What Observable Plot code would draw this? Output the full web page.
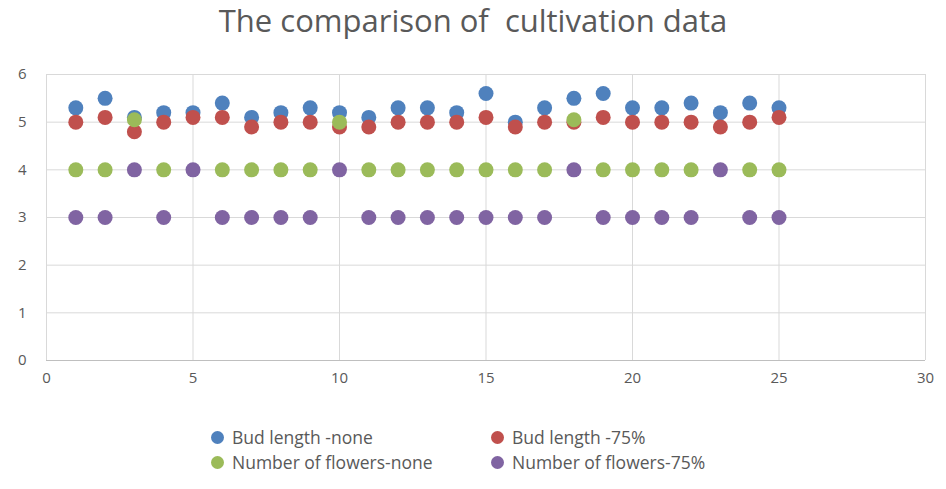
<!DOCTYPE html>
<html>
<head>
<meta charset="utf-8">
<script src="https://cdn.jsdelivr.net/npm/d3@7"></script>
<script src="https://cdn.jsdelivr.net/npm/@observablehq/plot@0.6"></script>
<style>
  body { margin: 0; background: #fff; font-family: "Open Sans", "Noto Sans", sans-serif; }
  #wrap { width: 946px; position: relative; }
  #title { height: 50px; line-height: 40px; text-align: center; font-size: 31px; color: #595959; white-space: pre; }
  #legend { position: relative; height: 80px; font-size: 17.5px; color: #595959; }
  .item { position: absolute; display: flex; align-items: center; white-space: pre; }
  .sw { width: 13px; height: 13px; border-radius: 50%; margin-right: 8px; }
</style>
</head>
<body>
<div id="wrap">
  <div id="title">The comparison of  cultivation data</div>
  <div id="chart"></div>
  <div id="legend"></div>
</div>
<script>
// Sample numbers 1–25
const samples = d3.range(1, 26);

const seriesNames = ["Bud length -none", "Bud length -75%", "Number of flowers-none", "Number of flowers-75%"];
const seriesColors = ["#4f81bd", "#c0504d", "#9bbb59", "#8064a2"];

const budLengthNone    = [5.3, 5.5, 5.1, 5.2, 5.2, 5.4, 5.1, 5.2, 5.3, 5.2, 5.1, 5.3, 5.3, 5.2, 5.6, 5.0, 5.3, 5.5, 5.6, 5.3, 5.3, 5.4, 5.2, 5.4, 5.3];
const budLength75      = [5.0, 5.1, 4.8, 5.0, 5.1, 5.1, 4.9, 5.0, 5.0, 4.9, 4.9, 5.0, 5.0, 5.0, 5.1, 4.9, 5.0, 5.0, 5.1, 5.0, 5.0, 5.0, 4.9, 5.0, 5.1];
const flowersNone      = [4, 4, 5.05, 4, null, 4, 4, 4, 4, 5.0, 4, 4, 4, 4, 4, 4, 4, 5.05, 4, 4, 4, 4, null, 4, 4];
const flowers75        = [3, 3, 4, 3, 4, 3, 3, 3, 3, 4, 3, 3, 3, 3, 3, 3, 3, 4, 3, 3, 3, 3, 4, 3, 3];

const xTicks = [0, 5, 10, 15, 20, 25, 30];
const yTicks = [0, 1, 2, 3, 4, 5, 6];

const allSeries = [budLengthNone, budLength75, flowersNone, flowers75];
const rows = allSeries.flatMap((vals, s) =>
  vals.map((v, i) => ({ sample: samples[i], value: v, series: seriesNames[s] })))
  .filter(d => d.value != null);

const chart = Plot.plot({
  width: 946,
  height: 345,
  marginLeft: 46,
  marginRight: 21,
  marginTop: 24,
  marginBottom: 35,
  style: { fontFamily: "'Open Sans', 'Noto Sans', sans-serif", fontSize: "15px", color: "#595959", background: "#fff" },
  x: { domain: [0, 30], ticks: xTicks, label: null, tickSize: 0 },
  y: { domain: [0, 6], ticks: yTicks, label: null, tickSize: 0 },
  color: { domain: seriesNames, range: seriesColors },
  marks: [
    Plot.gridX(xTicks, { stroke: "#d9d9d9", strokeOpacity: 1 }),
    Plot.gridY(yTicks, { stroke: "#d9d9d9", strokeOpacity: 1 }),
    Plot.ruleY([0], { stroke: "#bfbfbf" }),
    Plot.axisX({ ticks: xTicks, tickSize: 0, tickPadding: 12, tickFormat: "d", fill: "#595959" }),
    Plot.axisY({ ticks: yTicks, tickSize: 0, tickPadding: 20, tickFormat: "d", fill: "#595959" }),
    Plot.dot(rows, { x: "sample", y: "value", fill: "series", r: 7.5, stroke: null })
  ]
});
document.getElementById("chart").appendChild(chart);

// Legend: two columns, two rows
const legend = document.getElementById("legend");
const pos = [[211, 42], [491, 42], [211, 67], [491, 67]];
seriesNames.forEach((name, i) => {
  const item = document.createElement("div");
  item.className = "item";
  item.style.left = pos[i][0] + "px";
  item.style.top = (pos[i][1] - 12) + "px";
  const sw = document.createElement("span");
  sw.className = "sw";
  sw.style.background = seriesColors[i];
  item.appendChild(sw);
  item.appendChild(document.createTextNode(name));
  legend.appendChild(item);
});
</script>
</body>
</html>
